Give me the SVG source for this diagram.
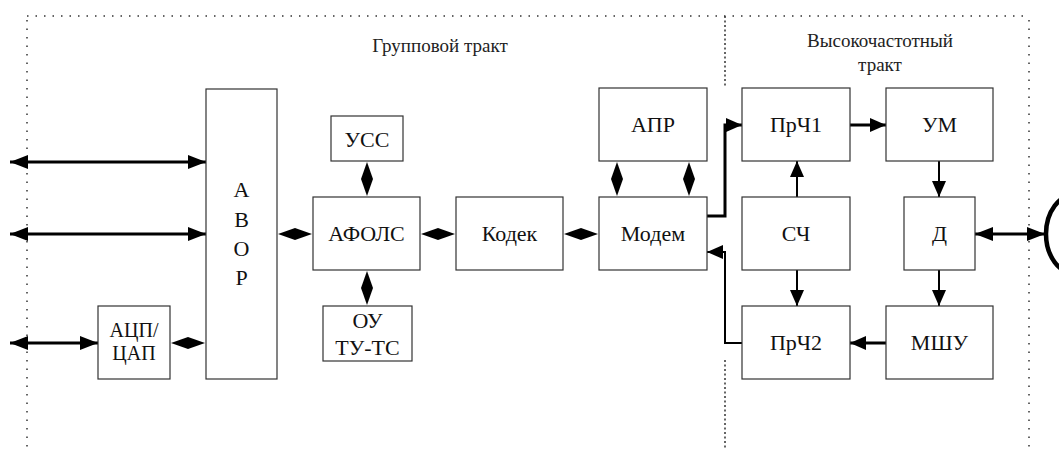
<svg xmlns="http://www.w3.org/2000/svg" width="1059" height="450" viewBox="0 0 1059 450">
<style>
.box{fill:#fff;stroke:#333;stroke-width:1.2}
.t{font-family:"Liberation Serif","Times New Roman","DejaVu Serif",serif;font-size:22px;fill:#111;text-anchor:middle}
.ts{font-family:"Liberation Serif","Times New Roman","DejaVu Serif",serif;font-size:20px;fill:#111;text-anchor:middle}
.lbl{font-family:"Liberation Serif","Times New Roman","DejaVu Serif",serif;font-size:19px;fill:#222;text-anchor:middle}
.dot{fill:none;stroke:#333;stroke-width:1.5;stroke-dasharray:1.5 7}
.dot2{fill:none;stroke:#333;stroke-width:1.5;stroke-dasharray:2 2.5}
.thick{fill:none;stroke:#000;stroke-width:3}
.thin{fill:none;stroke:#000;stroke-width:2}
.head{fill:#000}
</style>
<defs>
<marker id="ah" markerUnits="userSpaceOnUse" markerWidth="18" markerHeight="14" refX="18" refY="7" orient="auto-start-reverse">
<path d="M0,0 L18,7 L0,14 Z" fill="#000"/>
</marker>
<marker id="ahs" markerUnits="userSpaceOnUse" markerWidth="16" markerHeight="14" refX="16" refY="7" orient="auto-start-reverse">
<path d="M0,0 L16,7 L0,14 Z" fill="#000"/>
</marker>
</defs>

<g id="frame">
<path class="dot" d="M27,16 H1027"/>
<path class="dot" d="M27,20 V450"/>
<path class="dot" d="M1029,20 V450"/>
<path class="dot2" d="M725,16 V88"/>
<path class="dot2" d="M725,360 V450"/>
<text class="lbl" x="440" y="52">Групповой тракт</text>
<text class="lbl" x="880" y="47">Высокочастотный</text>
<text class="lbl" x="880" y="71">тракт</text>
</g>

<g id="connectors">
<path class="thick" d="M10,162 H206" marker-start="url(#ah)" marker-end="url(#ah)"/>
<path class="thick" d="M10,234 H206" marker-start="url(#ah)" marker-end="url(#ah)"/>
<path class="thick" d="M10,343 H98" marker-start="url(#ah)" marker-end="url(#ah)"/>
<polygon class="head" points="171,343 188,337 205,343 188,349"/>
<polygon class="head" points="278,234 295,228 312,234 295,240"/>
<polygon class="head" points="421,234 438,228 455,234 438,240"/>
<polygon class="head" points="564,234 581,228 598,234 581,240"/>
<polygon class="head" points="367,162 373,179 367,196 361,179"/>
<polygon class="head" points="367,271 373,288 367,305 361,288"/>
<polygon class="head" points="617,162 623,179 617,196 611,179"/>
<polygon class="head" points="689,162 695,179 689,196 683,179"/>
<path class="thick" d="M707,216 H725 V125 H742" marker-end="url(#ahs)"/>
<path class="thin" d="M742,343 H725 V252 H707" marker-end="url(#ahs)"/>
<path class="thick" d="M850,125 H886" marker-end="url(#ahs)"/>
<path class="thick" d="M886,343 H850" marker-end="url(#ahs)"/>
<path class="thin" d="M797,197 V161" marker-end="url(#ahs)"/>
<path class="thin" d="M797,270 V306" marker-end="url(#ahs)"/>
<path class="thin" d="M939,161 V197" marker-end="url(#ahs)"/>
<path class="thin" d="M939,270 V306" marker-end="url(#ahs)"/>
<path class="thick" d="M975,234 H1045" marker-start="url(#ah)" marker-end="url(#ah)"/>
</g>

<g id="antenna">
<ellipse cx="1076" cy="234" rx="30" ry="40" fill="none" stroke="#000" stroke-width="4.5"/>
</g>

<g id="avor">
<rect class="box" x="206" y="89" width="71" height="290"/>
<text class="t" x="241.5" y="197">А</text>
<text class="t" x="241.5" y="227">В</text>
<text class="t" x="241.5" y="256">О</text>
<text class="t" x="241.5" y="285">Р</text>
</g>
<g id="adc">
<rect class="box" x="98" y="306" width="72" height="73"/>
<text class="ts" x="134" y="337">АЦП/</text>
<text class="ts" x="134" y="360">ЦАП</text>
</g>
<g id="uss">
<rect class="box" x="331" y="116" width="72" height="45"/>
<text class="t" x="367" y="147">УСС</text>
</g>
<g id="afols">
<rect class="box" x="313" y="197" width="107" height="73"/>
<text class="t" x="366.5" y="241">АФОЛС</text>
</g>
<g id="ou">
<rect class="box" x="323" y="306" width="89" height="55"/>
<text class="t" x="367.5" y="328">ОУ</text>
<text class="t" x="367.5" y="355">ТУ-ТС</text>
</g>
<g id="codec">
<rect class="box" x="456" y="197" width="107" height="73"/>
<text class="t" x="509.5" y="241">Кодек</text>
</g>
<g id="apr">
<rect class="box" x="599" y="88" width="108" height="73"/>
<text class="t" x="653" y="132">АПР</text>
</g>
<g id="modem">
<rect class="box" x="599" y="197" width="108" height="73"/>
<text class="t" x="653" y="241">Модем</text>
</g>
<g id="prch1">
<rect class="box" x="742" y="88" width="108" height="73"/>
<text class="t" x="796" y="132">ПрЧ1</text>
</g>
<g id="um">
<rect class="box" x="886" y="88" width="107" height="73"/>
<text class="t" x="939.5" y="132">УМ</text>
</g>
<g id="sch">
<rect class="box" x="742" y="197" width="108" height="73"/>
<text class="t" x="796" y="241">СЧ</text>
</g>
<g id="d">
<rect class="box" x="904" y="197" width="71" height="73"/>
<text class="t" x="939.5" y="241">Д</text>
</g>
<g id="prch2">
<rect class="box" x="742" y="306" width="108" height="73"/>
<text class="t" x="796" y="350">ПрЧ2</text>
</g>
<g id="mshu">
<rect class="box" x="886" y="306" width="107" height="73"/>
<text class="t" x="939.5" y="350">МШУ</text>
</g>
</svg>
